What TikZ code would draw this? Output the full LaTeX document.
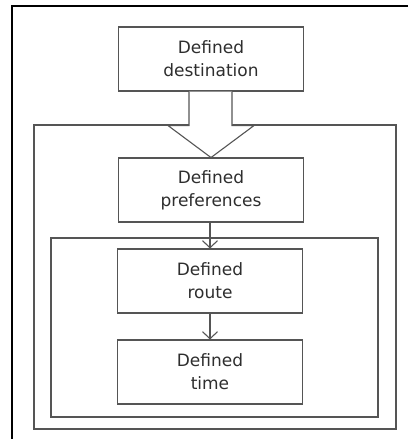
\documentclass[tikz,border=0pt]{standalone}
\usepackage{fontspec}
\setmainfont{DejaVu Sans}
\usetikzlibrary{arrows.meta, positioning}
\definecolor{boxline}{HTML}{555555}
\definecolor{boxtext}{HTML}{2E2E2E}
\tikzstyle{stage} = [rectangle, 
minimum width=185pt, 
minimum height=64pt, 
text centered, 
align=center, 
draw=boxline, 
line width=1.1pt, 
text=boxtext, 
font=\fontsize{17}{23}\selectfont]
\tikzstyle{frame} = [draw=boxline, line width=1.1pt]
\tikzstyle{arrow} = [draw=boxline, line width=1.1pt, -{Straight Barb[length=7pt,width=15pt]}]
\begin{document}
\begin{tikzpicture}[x=1pt, y=-1pt, node distance=91pt]
		\useasboundingbox (0,0) rectangle (408,439);
		\clip (0,0) rectangle (408,439);
		\fill[white] (0,0) rectangle (408,439);
		
		% outer frame, only top and left are visible
		\draw[black, line width=1.6pt] (408,6) -- (12,6) -- (12,445);
		
		% middle and inner frames
		\draw[frame] (34,125) rectangle (396,429);
		\draw[frame] (51,238) rectangle (378,417);
		
		\node (dest) [stage] at (211,59) {Defined\\destination};
		
		\node (pref) [stage, below of=dest, node distance=131pt] {Defined\\preferences};
		
		\node (route) [stage, below of=pref, xshift=-1pt] {Defined\\route};
		
		\node (time) [stage, below of=route] {Defined\\time};
		
		% big arrow into the middle frame
		\draw[frame, fill=white, line join=miter] (dest.south) ++(-22,0) -- ++(0,34) -- ++(-21,0) -- ++(43,32) -- ++(43,-32) -- ++(-22,0) -- ++(0,-34);
		
		\draw [arrow] (pref.south -| route.north) -- (route.north);
		\draw [arrow] (route) -- (time);
		
	\end{tikzpicture}
\end{document}
